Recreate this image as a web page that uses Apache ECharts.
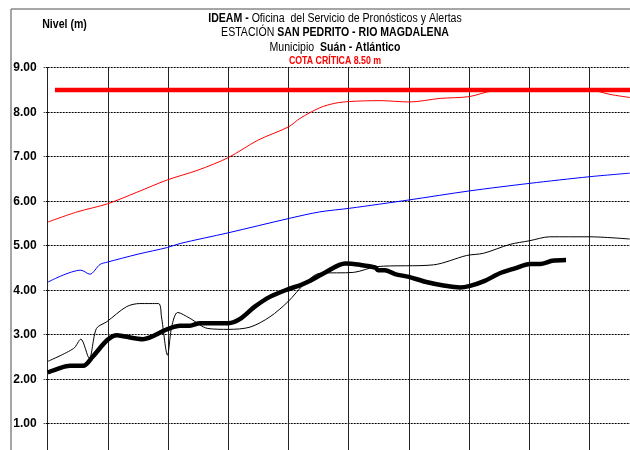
<!DOCTYPE html>
<html>
<head>
<meta charset="utf-8">
<script src="https://cdn.jsdelivr.net/npm/echarts@6/dist/echarts.min.js"></script>
<style>
html,body{margin:0;padding:0;background:#fff;}
#chart{width:630px;height:450px;}
</style>
</head>
<body>
<div id="chart"></div>
<script>
// x = column position (one grid column per unit), y = level in metres
var yTicks = [0, 1, 2, 3, 4, 5, 6, 7, 8, 9];
var cotaCritica = [[0.12, 8.5], [10, 8.5]];
var nivelRojo = [[0, 5.53], [0.49, 5.76], [0.99, 5.94], [1.48, 6.20], [1.99, 6.48], [2.50, 6.70], [3.0, 6.98], [3.49, 7.37], [4.0, 7.67], [4.19, 7.86], [4.52, 8.10], [4.77, 8.20], [5.01, 8.24], [5.52, 8.26], [6.01, 8.23], [6.52, 8.31], [7.0, 8.35], [7.40, 8.48], [8.0, 8.50], [9.0, 8.50], [9.34, 8.40], [9.67, 8.33]];
var nivelAzul = [[0, 4.18], [0.55, 4.45], [0.70, 4.36], [0.87, 4.58], [0.99, 4.63], [1.50, 4.81], [1.99, 4.96], [2.20, 5.05], [3.0, 5.29], [4.0, 5.61], [4.52, 5.76], [5.01, 5.84], [6.01, 6.03], [7.0, 6.23], [8.0, 6.40], [9.0, 6.55], [9.67, 6.63]];
var nivelNegro = [[0, 2.40], [0.43, 2.69], [0.55, 2.90], [0.69, 2.47], [0.81, 3.14], [0.98, 3.29], [1.31, 3.63], [1.53, 3.70], [1.84, 3.70], [1.89, 3.40], [1.99, 2.54], [2.06, 3.18], [2.16, 3.50], [2.36, 3.37], [2.66, 3.14], [3.0, 3.12], [3.36, 3.17], [3.69, 3.40], [3.99, 3.74], [4.27, 4.15], [4.52, 4.38], [5.08, 4.40], [5.47, 4.53], [6.41, 4.57], [6.96, 4.78], [7.24, 4.83], [7.68, 5.03], [8.0, 5.11], [8.34, 5.20], [9.0, 5.20], [9.67, 5.15]];
var nivelObservado = [[0, 2.15], [0.20, 2.25], [0.37, 2.30], [0.59, 2.30], [0.75, 2.51], [0.99, 2.88], [1.15, 2.99], [1.28, 2.96], [1.58, 2.90], [1.98, 3.12], [2.20, 3.20], [2.36, 3.20], [2.53, 3.26], [3.0, 3.26], [3.19, 3.35], [3.44, 3.63], [3.69, 3.85], [3.99, 4.02], [4.19, 4.11], [4.36, 4.21], [4.61, 4.40], [4.94, 4.60], [5.19, 4.57], [5.44, 4.51], [5.49, 4.45], [5.60, 4.45], [5.77, 4.36], [6.0, 4.30], [6.27, 4.19], [6.60, 4.10], [6.85, 4.06], [7.0, 4.09], [7.26, 4.21], [7.51, 4.38], [7.76, 4.49], [8.01, 4.59], [8.18, 4.59], [8.38, 4.66], [8.61, 4.68]];

var FONT = '"Liberation Sans", Arial, sans-serif';
var chart = echarts.init(document.getElementById('chart'), null, {renderer: 'canvas'});
var option = {
  animation: false,
  backgroundColor: '#fff',
  grid: {left: 47.7, top: 67.7, right: -19.7, bottom: -18.2, containLabel: false, outerBoundsMode: 'none'},
  xAxis: {
    type: 'value', min: 0, max: 10, interval: 1,
    axisLine: {show: false}, axisTick: {show: false}, axisLabel: {show: false},
    splitLine: {show: true, lineStyle: {color: '#222', width: 1, type: 'solid'}}
  },
  yAxis: {
    type: 'value', min: 0, max: 9, interval: 1,
    axisLine: {show: false},
    axisTick: {show: true, length: 4, lineStyle: {color: '#000', type: [2, 1]}},
    axisLabel: {
      margin: 11, color: '#000', fontWeight: 'bold', fontSize: 12, fontFamily: FONT,
      formatter: function (v) { return yTicks.indexOf(v) >= 0 ? v.toFixed(2) : ''; }
    },
    splitLine: {show: true, lineStyle: {color: '#000', width: 1, type: [2, 1]}}
  },
  graphic: [
    {type: 'line', shape: {x1: 11, y1: 9, x2: 630, y2: 9}, style: {stroke: '#888', lineWidth: 1.5}, z: 10},
    {type: 'line', shape: {x1: 11, y1: 9, x2: 11, y2: 450}, style: {stroke: '#888', lineWidth: 1.5}, z: 10},
    {type: 'text', x: 64.5, y: 25, scaleX: 0.88, z: 10,
      style: {text: 'Nivel (m)', font: 'bold 12px ' + FONT, fill: '#000', align: 'center', verticalAlign: 'middle'}},
    {type: 'text', x: 335, y: 19, scaleX: 0.88, z: 10,
      style: {text: '{b|IDEAM -} Oficina  del Servicio de Pronósticos y Alertas', font: '12px ' + FONT, fill: '#000', align: 'center', verticalAlign: 'middle',
        rich: {b: {fontWeight: 'bold', fontSize: 12, fontFamily: FONT}}}},
    {type: 'text', x: 335, y: 33, scaleX: 0.88, z: 10,
      style: {text: 'ESTACIÓN {b|SAN PEDRITO - RIO MAGDALENA}', font: '12px ' + FONT, fill: '#000', align: 'center', verticalAlign: 'middle',
        rich: {b: {fontWeight: 'bold', fontSize: 12, fontFamily: FONT}}}},
    {type: 'text', x: 335, y: 47.5, scaleX: 0.88, z: 10,
      style: {text: 'Municipio  {b|Suán - Atlántico}', font: '12px ' + FONT, fill: '#000', align: 'center', verticalAlign: 'middle',
        rich: {b: {fontWeight: 'bold', fontSize: 12, fontFamily: FONT}}}},
    {type: 'text', x: 335, y: 61, scaleX: 0.88, z: 10,
      style: {text: 'COTA CRÍTICA 8.50 m', font: 'bold 10px ' + FONT, fill: '#ff0000', align: 'center', verticalAlign: 'middle'}}
  ],
  series: [
    {type: 'line', name: 'Cota crítica', data: cotaCritica, showSymbol: false, lineStyle: {color: '#ff0000', width: 4.5}, z: 5},
    {type: 'line', name: 'Pronóstico alto', data: nivelRojo, smooth: 0.3, showSymbol: false, lineStyle: {color: '#ff0000', width: 1}, z: 4},
    {type: 'line', name: 'Pronóstico', data: nivelAzul, smooth: 0.3, showSymbol: false, lineStyle: {color: '#0000ff', width: 1}, z: 4},
    {type: 'line', name: 'Referencia', data: nivelNegro, smooth: 0.3, showSymbol: false, lineStyle: {color: '#000', width: 1}, z: 4},
    {type: 'line', name: 'Observado', data: nivelObservado, smooth: 0.3, showSymbol: false, lineStyle: {color: '#000', width: 4.5}, z: 6}
  ]
};
chart.setOption(option);
</script>
</body>
</html>
